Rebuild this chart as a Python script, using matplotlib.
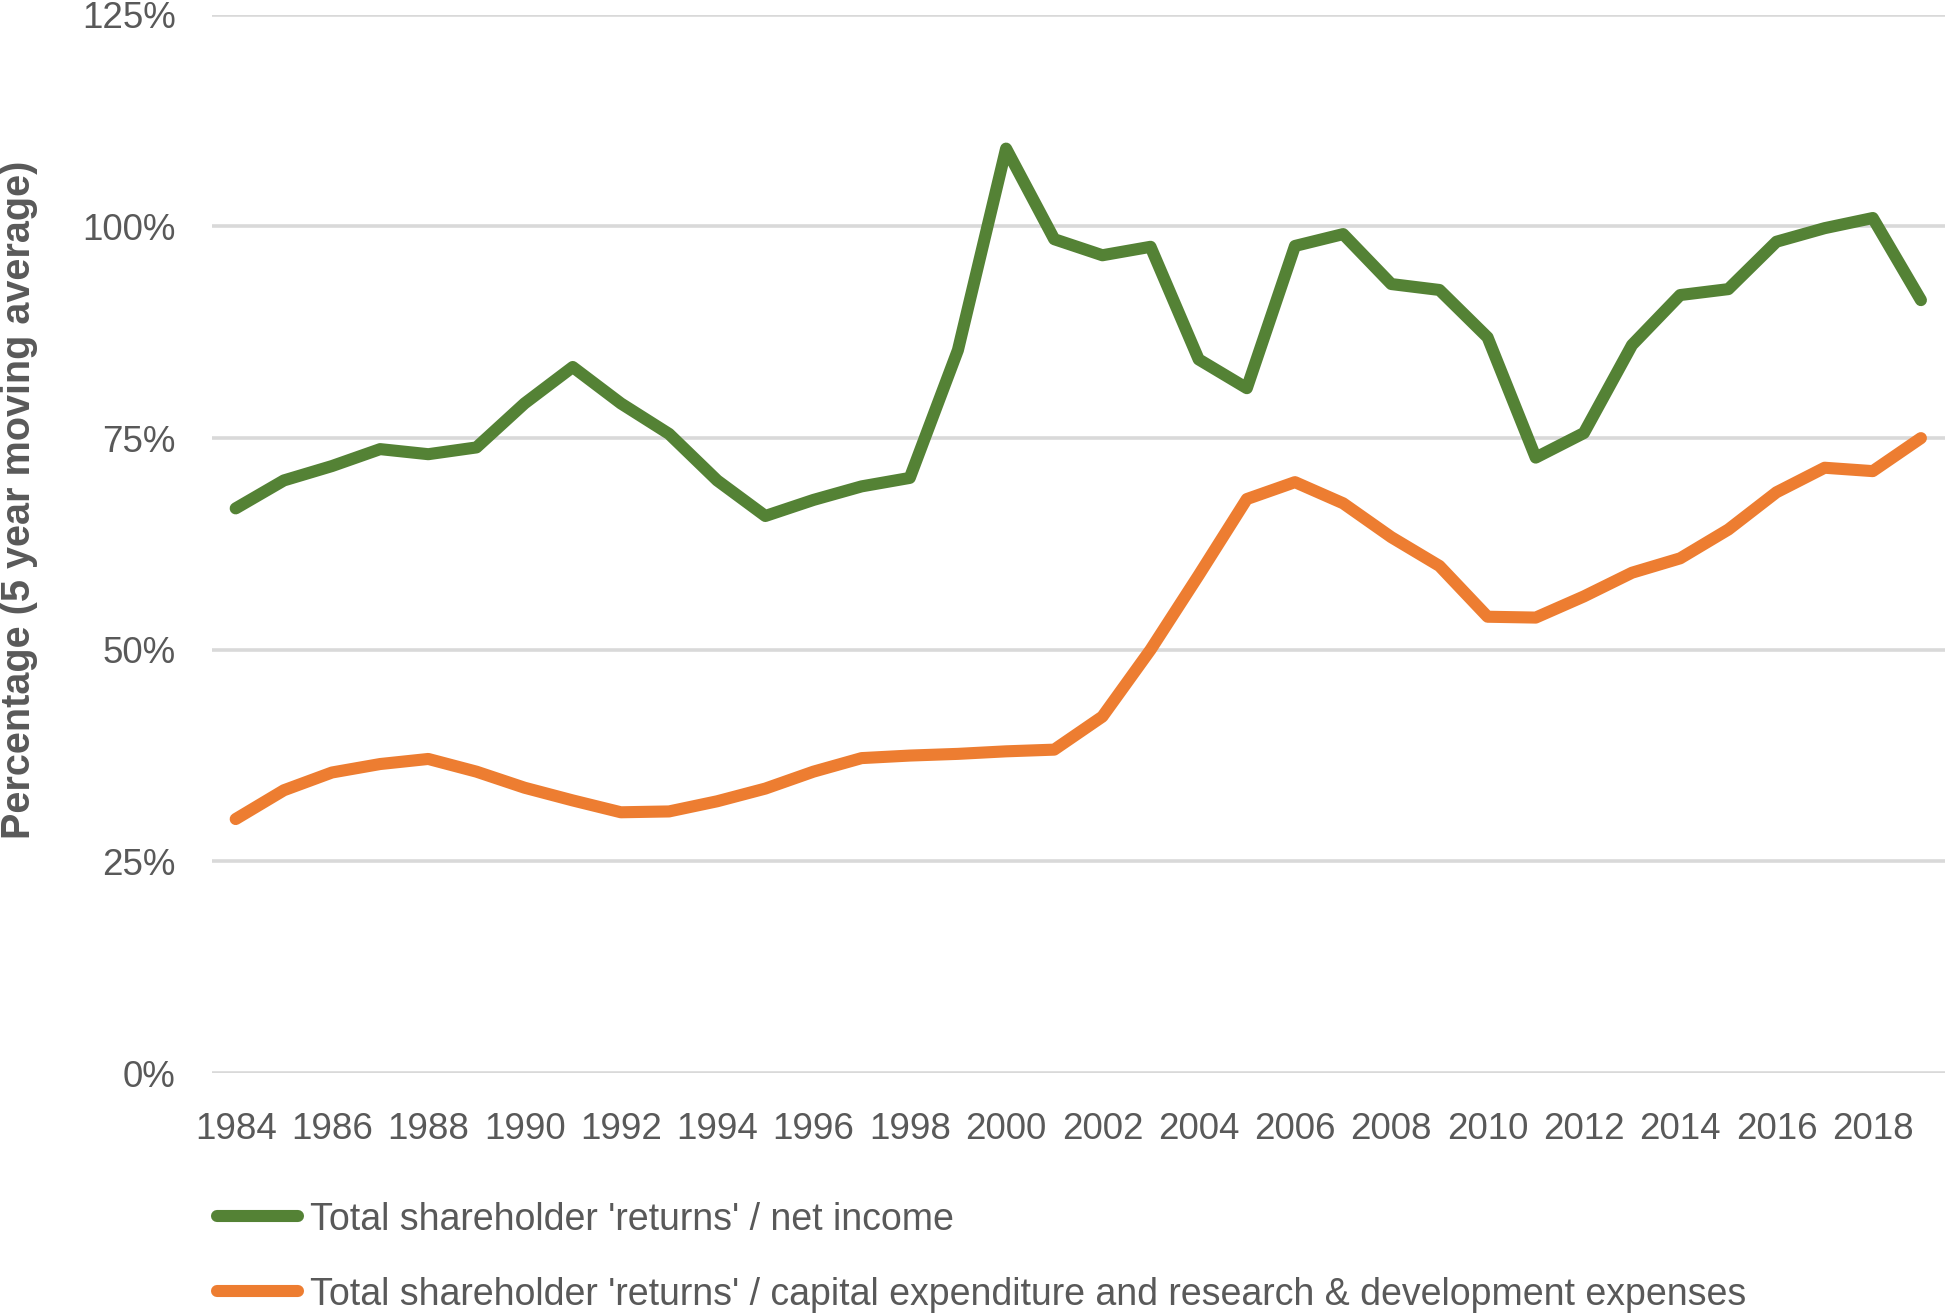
import numpy as np
import matplotlib.pyplot as plt
from matplotlib.ticker import FuncFormatter
plt.switch_backend("agg")

plt.rcParams['font.family'] = ['Liberation Sans', 'DejaVu Sans']

years = list(range(1984, 2020))
net_income = [66.7, 70.0, 71.7, 73.7, 73.1, 73.9, 79.1, 83.4, 79.1, 75.5,
              70.0, 65.8, 67.7, 69.3, 70.3, 85.4, 109.2, 98.5, 96.6, 97.6,
              84.3, 80.9, 97.7, 99.1, 93.2, 92.5, 86.9, 72.7, 75.6, 86.0,
              91.9, 92.6, 98.2, 99.8, 101.0, 91.3]
capex_rd = [30.0, 33.4, 35.5, 36.5, 37.1, 35.6, 33.7, 32.2, 30.8, 30.9,
            32.1, 33.6, 35.6, 37.2, 37.5, 37.7, 38.0, 38.2, 42.1, 50.0,
            58.8, 67.8, 69.8, 67.3, 63.3, 59.9, 53.9, 53.8, 56.3, 59.1,
            60.8, 64.2, 68.6, 71.5, 71.1, 75.0]
labels = ["Total shareholder 'returns' / net income",
          "Total shareholder 'returns' / capital expenditure and research & development expenses"]
yticks = [0, 25, 50, 75, 100, 125]

text_color = "#595959"
green = "#548235"
orange = "#ED7D31"

fig = plt.figure(figsize=(19.45, 13.14), dpi=100)
ax = fig.add_axes([0.1088, 0.1834, 0.8912, 0.8053])

x = np.arange(len(years))
ax.plot(x, net_income, color=green, lw=8.7, solid_capstyle="round",
        solid_joinstyle="round", label=labels[0])
ax.plot(x, capex_rd, color=orange, lw=8.7, solid_capstyle="round",
        solid_joinstyle="round", label=labels[1])

ax.set_xlim(-0.5, len(years) - 0.5)
ax.set_ylim(0, 125)
ax.set_yticks(yticks)
ax.yaxis.set_major_formatter(FuncFormatter(lambda v, p: "{:.0f}%".format(v)))
ax.set_xticks(x[::2])
ax.set_xticklabels([str(y) for y in years[::2]])

ax.grid(axis="y", color="#D9D9D9", lw=2.6)
ax.set_axisbelow(True)
for s in ax.spines.values():
    s.set_visible(False)
ax.tick_params(axis="both", length=0, labelsize=26.5, labelcolor=text_color)
ax.tick_params(axis="x", pad=28)
ax.tick_params(axis="y", pad=26)

ax.set_ylabel("Percentage (5 year moving average)", fontsize=28.5,
              fontweight="bold", color=text_color)
ax.yaxis.set_label_coords(-0.1, 0.542)

fig.legend(loc="upper left", bbox_to_anchor=(0.1039, 0.097), frameon=False,
           fontsize=27, labelcolor=text_color, handlelength=2.17,
           handletextpad=0.32, labelspacing=1.04, borderaxespad=0)

plt.savefig("out.png", dpi=100)
plt.close(fig)
